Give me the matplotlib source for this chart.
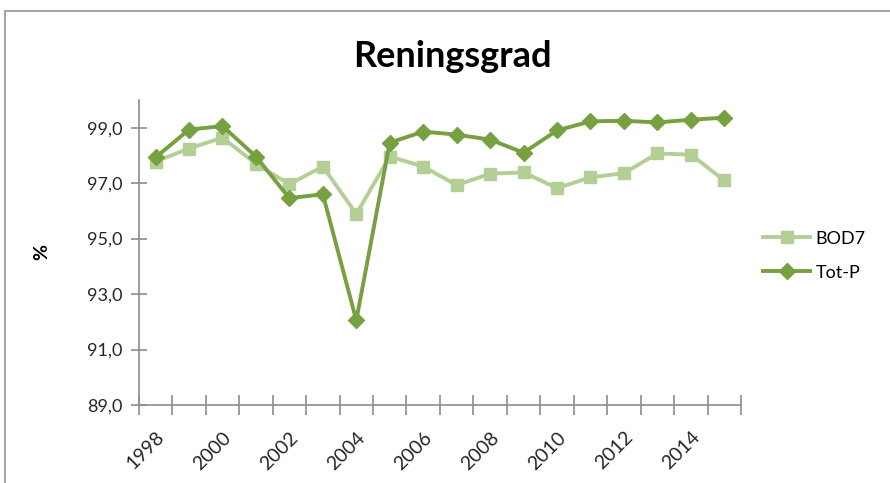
#!/usr/bin/env python3

import matplotlib
matplotlib.use("Agg")
import matplotlib.pyplot as plt
from matplotlib.patches import Rectangle
from matplotlib.ticker import FixedLocator, FuncFormatter

years = list(range(1998, 2016))
bod7 = [97.78, 98.25, 98.64, 97.70, 96.96, 97.60, 95.89, 97.96, 97.60,
        96.93, 97.34, 97.39, 96.82, 97.21, 97.36, 98.07, 98.03, 97.10]
tot_p = [97.93, 98.93, 99.06, 97.96, 96.46, 96.60, 92.05, 98.46, 98.86,
         98.75, 98.57, 98.10, 98.90, 99.23, 99.25, 99.19, 99.29, 99.36]
year_labels = [str(y) if (y - 1998) % 2 == 0 else "" for y in years]

plt.rcParams["font.family"] = ["Lato", "DejaVu Sans"]

fig = plt.figure(figsize=(8.9, 4.83), dpi=100)
ax = fig.add_axes([0.156, 0.1615, 0.6766, 0.6315])

# chart frame, runs off the right and bottom like in the screenshot
fig.patches.append(Rectangle((5 / 890, -0.1), 1.2, 1 - 11 / 483 + 0.1, transform=fig.transFigure,
                             fill=False, edgecolor="#a6a6a6", lw=1.5))

x = list(range(len(years)))
ax.plot(x, bod7, color="#b3cf95", lw=2.8, marker="s", ms=8.5, label="BOD7", zorder=3)
ax.plot(x, tot_p, color="#77a040", lw=2.8, marker="D", ms=8, label="Tot-P", zorder=4)

ax.set_xlim(-0.5, len(years) - 0.5)
ax.set_ylim(89, 100)
ax.set_yticks([89, 91, 93, 95, 97, 99])
ax.yaxis.set_major_formatter(FuncFormatter(lambda v, p: "{:.1f}".format(v).replace(".", ",")))

ax.xaxis.set_major_locator(FixedLocator([i for i in x if year_labels[i]]))
ax.set_xticklabels([l for l in year_labels if l], rotation=45, ha="right", rotation_mode="anchor")
ax.xaxis.set_minor_locator(FixedLocator([i - 0.5 for i in range(len(years) + 1)]))
ax.tick_params(axis="x", which="major", length=0, pad=17, labelsize=14, colors="#262626")
ax.tick_params(axis="x", which="minor", length=14, direction="inout", color="#8c8c8c", width=1.2)
ax.tick_params(axis="y", which="major", length=12, direction="inout", color="#8c8c8c", width=1.2,
               labelsize=13, labelcolor="#262626", pad=6)

for side in ["top", "right"]:
    ax.spines[side].set_visible(False)
for side in ["left", "bottom"]:
    ax.spines[side].set_color("#8c8c8c")
    ax.spines[side].set_linewidth(1.2)

ax.set_ylabel("%", fontsize=14, fontweight="bold", labelpad=26)
fig.text(0.508, 0.882, "Reningsgrad", ha="center", va="center", fontsize=26, fontweight="bold")

ax.legend(loc="center left", bbox_to_anchor=(1.01, 0.49), frameon=False, fontsize=13,
          handlelength=2.6, labelspacing=1.0, handletextpad=0.3)

fig.savefig("out.png", dpi=100)
